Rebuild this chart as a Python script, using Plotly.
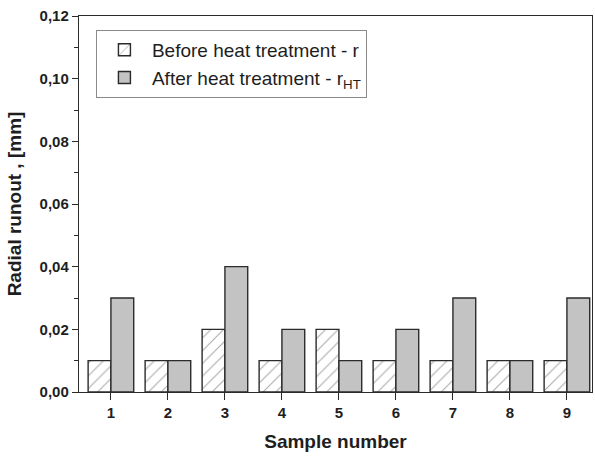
import plotly.graph_objects as go

# Radial runout per sample, before and after heat treatment [mm]
samples = [1, 2, 3, 4, 5, 6, 7, 8, 9]
before_ht = [0.01, 0.01, 0.02, 0.01, 0.02, 0.01, 0.01, 0.01, 0.01]
after_ht = [0.03, 0.01, 0.04, 0.02, 0.01, 0.02, 0.03, 0.01, 0.03]
y_ticks = [0.00, 0.02, 0.04, 0.06, 0.08, 0.10, 0.12]

edge = "#2b2b2b"
ink = "#1e1e1e"
font = "Liberation Sans, Arial, sans-serif"

fig = go.Figure()
fig.add_trace(go.Bar(
    x=samples, y=before_ht, name="Before heat treatment - r",
    marker=dict(color="white", line=dict(color=edge, width=1.4),
                pattern=dict(shape="/", fgcolor="#555555", bgcolor="white",
                             size=9, solidity=0.12)),
))
fig.add_trace(go.Bar(
    x=samples, y=after_ht, name="After heat treatment - r<sub>HT</sub>",
    marker=dict(color="#c3c3c3", line=dict(color=edge, width=1.4)),
))

tick_font = dict(family=font, size=15, color=ink, weight="bold")

fig.update_layout(
    width=595, height=459,
    margin=dict(l=79, r=3, t=16, b=67),
    paper_bgcolor="white", plot_bgcolor="white",
    separators=",.",
    barmode="group", bargap=0.2, bargroupgap=0.0,
    font=dict(family=font, color=ink),
    showlegend=True,
    legend=dict(x=0.033, y=0.963, xanchor="left", yanchor="top",
                bordercolor="#8a8a8a", borderwidth=1, bgcolor="white",
                font=dict(family=font, size=19, color=ink),
                tracegroupgap=0, itemwidth=45),
    xaxis=dict(
        range=[0.44, 9.44], tickvals=samples, ticktext=[str(s) for s in samples],
        ticks="outside", ticklen=7, tickwidth=1.3, tickcolor=edge,
        showline=True, linecolor=edge, linewidth=1.4, mirror=True,
        showgrid=False, zeroline=False,
        tickfont=tick_font,
        title=dict(text="<b>Sample number</b>", standoff=14,
                   font=dict(family=font, size=19, color=ink)),
    ),
    yaxis=dict(
        range=[0, 0.12], tickvals=y_ticks, tickformat=".2f",
        ticks="outside", ticklen=6, tickwidth=1.3, tickcolor=edge,
        minor=dict(dtick=0.01, ticks="outside", ticklen=4, tickcolor=edge,
                   tickwidth=1.2, showgrid=False),
        showline=True, linecolor=edge, linewidth=1.4, mirror=True,
        showgrid=False, zeroline=False,
        tickfont=tick_font,
        title=dict(text="<b>Radial runout , [mm]</b>", standoff=12,
                   font=dict(family=font, size=19, color=ink)),
    ),
    yaxis2=dict(
        overlaying="y", side="right", anchor="x", range=[0, 0.12],
        tickvals=y_ticks, showticklabels=False,
        ticks="inside", ticklen=6, tickwidth=1.3, tickcolor=edge,
        minor=dict(dtick=0.01, ticks="inside", ticklen=4, tickcolor=edge,
                   tickwidth=1.2, showgrid=False),
        showgrid=False, zeroline=False, showline=False,
    ),
)

fig.write_html("out.html")
